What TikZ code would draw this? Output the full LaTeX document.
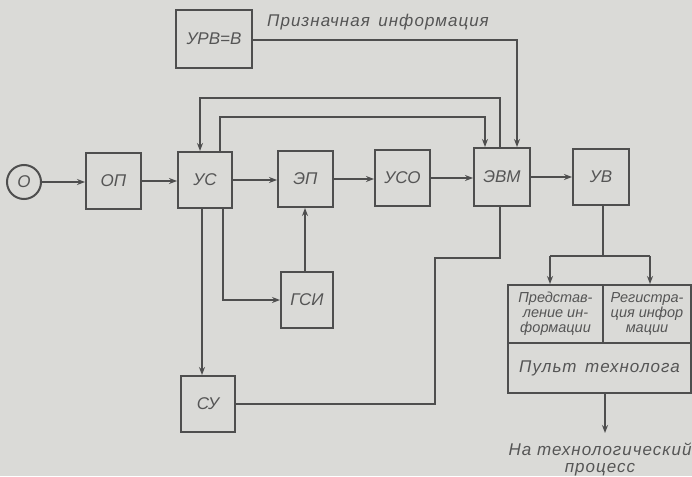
\documentclass[tikz,border=0pt]{standalone}
\usepackage{fontspec}
\setmainfont{Liberation Sans}
\usetikzlibrary{arrows.meta}
\definecolor{bg}{RGB}{218,218,215}
\definecolor{ink}{RGB}{78,78,78}
\definecolor{txt}{RGB}{85,85,85}
\newfontfamily\spaced[LetterSpace=6]{Liberation Sans}
\tikzset{
  blk/.style={draw=ink, line width=2pt, minimum width=#1, inner sep=0pt, text=txt,
    font=\fontsize{17}{19}\selectfont\itshape},
  blk/.default=55pt,
  ln/.style={draw=ink, line width=2pt},
  arr/.style={ln, -{Stealth[length=8pt,width=6pt]}},
  cell/.style={draw=ink, line width=2pt, inner sep=0pt, text=txt, align=center,
    font=\fontsize{14.5}{15}\selectfont\itshape},
  lbl/.style={text=txt, inner sep=0pt, font=\spaced\fontsize{17}{19}\selectfont\itshape}
}
\begin{document}
\begin{tikzpicture}[x=1pt,y=-1pt]
\fill[bg] (0,0) rectangle (692,476);
\useasboundingbox (0,0) rectangle (692,476);
% blocks
\node[circle, draw=ink, line width=2pt, minimum size=34pt, inner sep=0pt, text=txt,
  font=\fontsize{17}{19}\selectfont\itshape] (o) at (24,182) {O};
\node[blk=55pt, minimum height=56pt] (op) at (113.5,181) {ОП};
\node[blk=54pt, minimum height=56pt] (us) at (205,180) {УС};
\node[blk=55pt, minimum height=56pt] (ep) at (305.5,179) {ЭП};
\node[blk=55pt, minimum height=56pt] (uso) at (402.5,178) {УСО};
\node[blk=56pt, minimum height=58pt] (evm) at (502,177) {ЭВМ};
\node[blk=56pt, minimum height=56pt] (uv) at (601,177) {УВ};
\node[blk=52pt, minimum height=56pt] (gsi) at (307,300) {ГСИ};
\node[blk=54pt, minimum height=56pt] (su) at (208,404) {СУ};
\node[blk=76pt, minimum height=58pt] (urv) at (214,39) {УРВ=В};
% console block
\node[cell, minimum width=95pt, minimum height=58pt] (pl) at (555.5,314)
  {Представ-\\ление ин-\\формации};
\node[cell, minimum width=88pt, minimum height=58pt] (pr) at (647,314)
  {Регистра-\\ция инфор\\мации};
\node[cell, minimum width=183pt, minimum height=50pt, font=\spaced\fontsize{17}{19}\selectfont\itshape]
  (pb) at (599.5,368) {Пульт\enspace технолога};
% labels
\node[lbl, anchor=west] (t1) at (267,22) {Призначная\enspace информация};
\node[lbl, align=center, font=\spaced\fontsize{17}{17}\selectfont\itshape] (t2) at (600,459)
  {На технологический\\процесс};
% main chain
\draw[arr] (o.east) -- (op.west |- o.east);
\draw[arr] (op.east) -- (us.west |- op.east);
\draw[arr] (us.east) -- (ep.west |- us.east);
\draw[arr] (ep.east) -- (uso.west |- ep.east);
\draw[arr] (uso.east) -- (evm.west |- uso.east);
\draw[arr] (evm.east) -- (uv.west |- evm.east);
% feedback lines on top
\coordinate (k1) at (200,98);
\coordinate (k2) at (485,117);
\coordinate (k3) at (517,40);
\draw[arr] ([xshift=-2pt]evm.north) |- (k1) -- (k1 |- us.north);
\draw[arr] ([xshift=15pt]us.north) |- (k2) -- (k2 |- evm.north);
\draw[arr] (urv.east |- k3) -- (k3) -- (k3 |- evm.north);
% downward from УС
\draw[arr] ([xshift=-3pt]us.south) -- ([xshift=-3pt]us.south |- su.north);
\draw[arr] ([xshift=18pt]us.south) |- (gsi.west);
\draw[arr] ([xshift=-2pt]gsi.north) -- ([xshift=-2pt]gsi.north |- ep.south);
% ЭВМ to СУ
\coordinate (c1) at (435,258);
\draw[ln] ([xshift=-2pt]evm.south) |- (c1) |- (su.east);
% УВ to console
\coordinate (br) at (uv.south |- 0,256);
\coordinate (bl) at (550,256);
\coordinate (bR) at (650,256);
\draw[ln] ([xshift=2pt]uv.south) -- ([xshift=2pt]br);
\draw[arr] (bl) -- (bl |- pl.north);
\draw[arr] (bR) -- (bR |- pr.north);
\draw[ln] (bl) -- (bR);
% output
\coordinate (out) at (605,433);
\draw[arr] (out |- pb.south) -- (out);
\end{tikzpicture}
\end{document}
